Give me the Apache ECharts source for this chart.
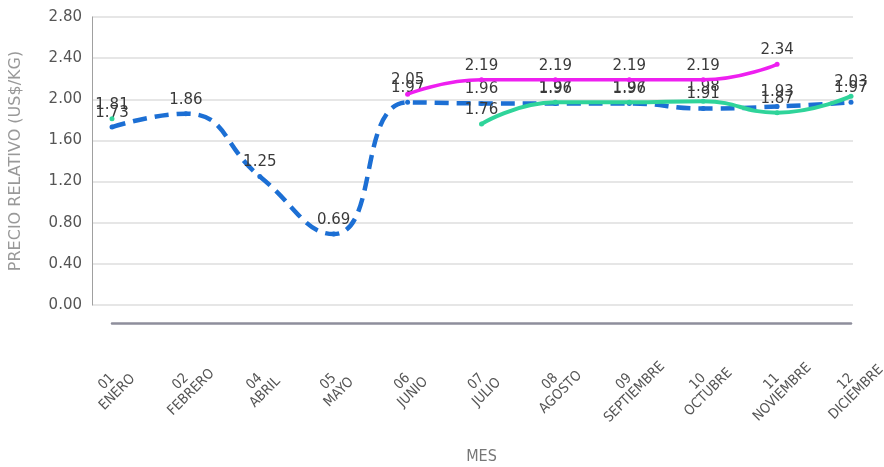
<!DOCTYPE html>
<html>
<head>
<meta charset="utf-8">
<script src="https://cdn.jsdelivr.net/npm/echarts@6/dist/echarts.min.js"></script>
<style>html,body{margin:0;padding:0;background:#fff}#c{width:884px;height:467px}</style>
</head>
<body>
<div id="c"></div>
<script>
const months = ['01\nENERO','02\nFEBRERO','04\nABRIL','05\nMAYO','06\nJUNIO','07\nJULIO','08\nAGOSTO','09\nSEPTIEMBRE','10\nOCTUBRE','11\nNOVIEMBRE','12\nDICIEMBRE'];
const blueValues = [1.73,1.86,1.25,0.69,1.97,1.96,1.96,1.96,1.91,1.93,1.97];
const greenValues = [1.81,null,null,null,null,1.76,1.97,1.97,1.98,1.87,2.03];
const magentaValues = [null,null,null,null,2.05,2.19,2.19,2.19,2.19,2.34,null];
const yMin = 0, yMax = 2.8, yStep = 0.4;

const chart = echarts.init(document.getElementById('c'), null, {renderer:'canvas'});
const labelStyle = {show:true, position:'top', distance:4, fontFamily:'DejaVu Sans', fontSize:15, color:'#3a3a3a', formatter:p=>p.value==null?'':Number(p.value).toFixed(2)};
chart.setOption({
  animation:false,
  backgroundColor:'#fff',
  grid:[
    {left:92,right:31,top:17,bottom:162,containLabel:false,outerBoundsMode:'none'},
    {left:112,right:33,top:17,bottom:162,containLabel:false,outerBoundsMode:'none'}
  ],
  xAxis:[
    {gridIndex:0,type:'category',data:months,show:false},
    {gridIndex:1,type:'category',data:months,boundaryGap:false,offset:18,
     axisLine:{onZero:false,lineStyle:{color:'#8e8e9c',width:2.5}},axisTick:{show:false},
     axisLabel:{rotate:45,align:'center',verticalAlign:'middle',margin:64,fontFamily:'DejaVu Sans Condensed',fontSize:14,color:'#555',lineHeight:15,interval:0},
     name:'MES',nameLocation:'middle',nameGap:126,nameTextStyle:{fontFamily:'DejaVu Sans Condensed',fontSize:16,color:'#777'}}
  ],
  yAxis:[
    {gridIndex:0,type:'value',min:yMin,max:yMax,interval:yStep,
     axisLine:{show:true,lineStyle:{color:'#a0a0a0',width:1}},axisTick:{show:false},
     splitLine:{lineStyle:{color:'#dedede',width:1.5}},
     axisLabel:{formatter:v=>v.toFixed(2),fontFamily:'DejaVu Sans',fontSize:15,color:'#555',margin:10},
     name:'PRECIO RELATIVO (US$/KG)',nameLocation:'middle',nameGap:68,
     nameTextStyle:{fontFamily:'DejaVu Sans',fontSize:16,color:'#999'}},
    {gridIndex:1,type:'value',min:yMin,max:yMax,interval:yStep,show:false,splitLine:{show:false}}
  ],
  series:[
    {type:'line',xAxisIndex:1,yAxisIndex:1,data:blueValues,smooth:0.5,symbol:'circle',symbolSize:5,
     itemStyle:{color:'#1c6fd4'},lineStyle:{color:'#1c6fd4',width:4.5,type:[14,8]},label:labelStyle,z:2},
    {type:'line',xAxisIndex:1,yAxisIndex:1,data:greenValues,smooth:0.5,symbol:'circle',symbolSize:5,connectNulls:false,
     itemStyle:{color:'#2fd49a'},lineStyle:{color:'#2fd49a',width:4},label:labelStyle,z:3},
    {type:'line',xAxisIndex:1,yAxisIndex:1,data:magentaValues,smooth:0.5,symbol:'circle',symbolSize:5,
     itemStyle:{color:'#ee1ff0'},lineStyle:{color:'#ee1ff0',width:3.5},label:labelStyle,z:4}
  ]
});
</script>
</body>
</html>
